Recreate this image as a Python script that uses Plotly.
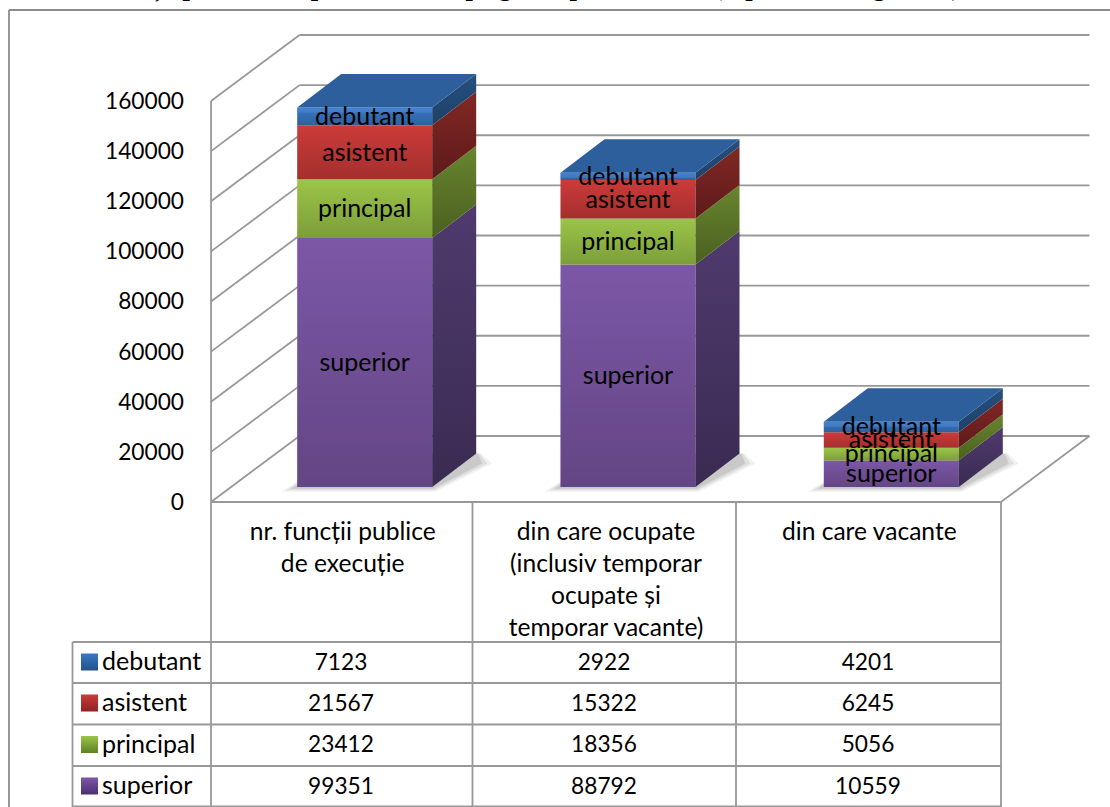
import plotly.graph_objects as go

CATEGORIES = ["nr. funcții publice<br>de execuție",
              "din care ocupate<br>(inclusiv temporar<br>ocupate și<br>temporar vacante)",
              "din care vacante"]
SERIES = ["superior", "principal", "asistent", "debutant"]
SUPERIOR = [99351, 88792, 10559]
PRINCIPAL = [23412, 18356, 5056]
ASISTENT = [21567, 15322, 6245]
DEBUTANT = [7123, 2922, 4201]
Y_TICKS = [0, 20000, 40000, 60000, 80000, 100000, 120000, 140000, 160000]
TITLE = "Nr. funcții publice ocupate, vacante pe grade profesionale (reprezentare grafică)"

VALUES = [SUPERIOR, PRINCIPAL, ASISTENT, DEBUTANT]
FRONT = ["#7C57A6", "#9BC548", "#CC3B39", "#3A78C4"]
SIDE_A = ["#503A6E", "#69852F", "#822825", "#24507F"]
SIDE_B = ["#3A2B52", "#4A601F", "#5D1A1A", "#1F4068"]
TOP = "#2C5F9C"
KEY_GRAD = ["#4A2F73", "#5F7F26", "#8E2323", "#20518C"]

FONT = "Lato, Carlito, Calibri, sans-serif"
FS = 25        # words
FN = 22.7      # numbers
W, H = 1110, 807
L, R, T, B = 205, 1100, 25, 510          # plot rectangle, px

PX_PER_UNIT = (502 - 101) / 160000
CAT = 263.3
def X(px): return (px - 342.7) / CAT
def V(py): return (502 - py) / PX_PER_UNIT

BAR_SHIFT = 22 / CAT
FLOOR_V = 15 / PX_PER_UNIT
BAR_W = 135 / CAT
DEPTH_X, DEPTH_V = 44 / CAT, 33.5 / PX_PER_UNIT
BACK_X, BACK_V = 88.5 / CAT, 66 / PX_PER_UNIT
GRID = "#989898"
LW = 1.8

fig = go.Figure()

def poly(xs, vs, start, end=None):
    kw = dict(fillcolor=start)
    if end is not None:
        kw = dict(fillgradient=dict(type="vertical", colorscale=[[0, end], [1, start]]))
    fig.add_trace(go.Scatter(x=xs + xs[:1], y=vs + vs[:1], mode="lines", fill="toself",
                             line=dict(width=0), hoverinfo="skip", showlegend=False,
                             cliponaxis=False, **kw))

cum = [[FLOOR_V] * 3]
for vals in VALUES:
    cum.append([a + v for a, v in zip(cum[-1], vals)])

# front faces
for s, name in enumerate(SERIES):
    fig.add_trace(go.Bar(x=[i + BAR_SHIFT for i in range(3)], y=VALUES[s], base=cum[s],
                         width=BAR_W, name=name, marker=dict(color=FRONT[s], line=dict(width=0)),
                         showlegend=False, hovertemplate="%{y}<extra>" + name + "</extra>"))

for i in range(3):
    c = i + BAR_SHIFT
    x0, x1 = c - BAR_W / 2, c + BAR_W / 2
    for s in range(4):
        lo, hi = cum[s][i], cum[s + 1][i]
        poly([x0, x1, x1, x0], [lo, lo, hi, hi], "rgba(0,0,0,0)", "rgba(0,0,0,0.20)")
        poly([x1, x1 + DEPTH_X, x1 + DEPTH_X, x1],
             [lo, lo + DEPTH_V, hi + DEPTH_V, hi], SIDE_A[s], SIDE_B[s])
    top = cum[4][i]
    poly([x0, x1, x1 + DEPTH_X, x0 + DEPTH_X], [top, top, top + DEPTH_V, top + DEPTH_V], TOP)
    poly([x0, x1, x1, x0], [top - 5 / PX_PER_UNIT, top - 5 / PX_PER_UNIT, top, top], "rgba(90,150,225,0.35)")

# labels on the bars
LABEL_DROP = 2 / PX_PER_UNIT
for s, name in enumerate(SERIES):
    fig.add_trace(go.Scatter(x=[i + BAR_SHIFT for i in range(3)],
                             y=[(cum[s][i] + cum[s + 1][i]) / 2 - LABEL_DROP for i in range(3)],
                             mode="text", text=[name] * 3, textposition="middle center",
                             textfont=dict(family=FONT, size=FS, color="#000"),
                             cliponaxis=False, hoverinfo="skip", showlegend=False))

# data table, on a second full-page pair of axes
ROWS_Y = [788, 746.5, 705, 664]
KEYS_Y = [786, 744.5, 703, 662]
COLS_X = [341, 604, 868]
for s, name in enumerate(SERIES):
    fig.add_trace(go.Scatter(x=COLS_X, y=[ROWS_Y[s]] * 3, xaxis="x2", yaxis="y2", mode="text",
                             text=[str(v) for v in VALUES[s]], textposition="middle center",
                             textfont=dict(family=FONT, size=FN, color="#000"),
                             hoverinfo="skip", showlegend=False))
    fig.add_trace(go.Scatter(x=[89.5], y=[KEYS_Y[s]], xaxis="x2", yaxis="y2", mode="markers",
                             marker=dict(symbol="square", size=17, color=FRONT[s], line=dict(width=0),
                                         gradient=dict(type="vertical", color=KEY_GRAD[s])),
                             hoverinfo="skip", showlegend=False))
    fig.add_trace(go.Scatter(x=[102], y=[ROWS_Y[s]], xaxis="x2", yaxis="y2", mode="text", text=[name],
                             textposition="middle right",
                             textfont=dict(family=FONT, size=FS, color="#000"),
                             hoverinfo="skip", showlegend=False))

shapes = []
def px_line(x0, y0, x1, y1, color=GRID):
    shapes.append(dict(type="line", xref="x2", yref="y2", x0=x0, y0=y0, x1=x1, y1=y1,
                       line=dict(color=color, width=LW), layer="below"))
def data_line(x0, y0, x1, y1):
    shapes.append(dict(type="line", xref="x", yref="y", x0=x0, y0=y0, x1=x1, y1=y1,
                       line=dict(color=GRID, width=LW), layer="below"))

# walls and floor
FX = -0.5
for t in Y_TICKS:
    data_line(FX, t, FX + BACK_X, t + BACK_V)
    data_line(FX + BACK_X, t + BACK_V, 2.5 + BACK_X, t + BACK_V)
data_line(FX, 0, FX, 160000)
data_line(2.5, 0, 2.5 + BACK_X, BACK_V)

# soft floor shadows
for i in range(3):
    c = i + BAR_SHIFT
    x0, x1 = c - BAR_W / 2, c + BAR_W / 2
    b = FLOOR_V
    for grow, alpha in ((16, .07), (11, .10), (6, .13)):
        gx, gv = grow / CAT, grow * .3 / PX_PER_UNIT
        pts = [(x0 - gx, b - gv), (x1 + gx * .2, b - gv), (x1 + DEPTH_X + gx, b + DEPTH_V * .7),
               (x1 + DEPTH_X + gx * .3, b + DEPTH_V), (x0 + DEPTH_X, b + DEPTH_V)]
        path = "M " + " L ".join(f"{a} {v}" for a, v in pts) + " Z"
        shapes.append(dict(type="path", xref="x", yref="y", path=path, layer="below",
                           fillcolor=f"rgba(60,60,60,{alpha})", line=dict(width=0)))

# table rules and page frame
px_line(211, 502, 1001, 502)
for px in (211, 472.5, 736, 1001):
    px_line(px, 502, px, 807)
for py in (642, 683, 724.5, 766, 806.5):
    px_line(72.5, py, 1001, py)
px_line(72.5, 642, 72.5, 807)
px_line(9, 10, 1110, 10, "#8C8C8C")
px_line(9, 10, 9, 807, "#8C8C8C")

fig.add_annotation(xref="x2", yref="y2", x=962, y=4, text="<b>" + TITLE + "</b>",
                   showarrow=False, xanchor="right", yanchor="bottom",
                   font=dict(family="Liberation Serif", size=26.4, color="#000"))

hidden = dict(visible=False, showgrid=False, zeroline=False, fixedrange=True)
fig.update_layout(
    width=W, height=H, autosize=False, barmode="overlay",
    margin=dict(l=0, r=0, t=0, b=0, pad=0),
    paper_bgcolor="white", plot_bgcolor="rgba(0,0,0,0)", showlegend=False, shapes=shapes,
    font=dict(family=FONT, size=FS, color="#000"),
    xaxis=dict(domain=[L / W, R / W], range=[X(L), X(R)], tickvals=[0, 1, 2], ticktext=CATEGORIES,
               showgrid=False, zeroline=False, showline=False, ticks="", ticklabelstandoff=4, tickangle=0,
               automargin=False, tickfont=dict(family=FONT, size=24.6, color="#000")),
    yaxis=dict(domain=[1 - B / H, 1 - T / H], range=[V(B), V(T)], tickvals=Y_TICKS,
               ticktext=[str(t) for t in Y_TICKS], showgrid=False, zeroline=False, showline=False, ticks="",
               ticklabelstandoff=20, automargin=False, tickfont=dict(family=FONT, size=FN, color="#000")),
    xaxis2=dict(domain=[0, 1], range=[0, W], anchor="y2", **hidden),
    yaxis2=dict(domain=[0, 1], range=[H, 0], anchor="x2", **hidden),
)
fig.write_html("out.html", config={"displayModeBar": False},
               post_script="document.body.style.margin='0';document.body.style.overflow='hidden';")
